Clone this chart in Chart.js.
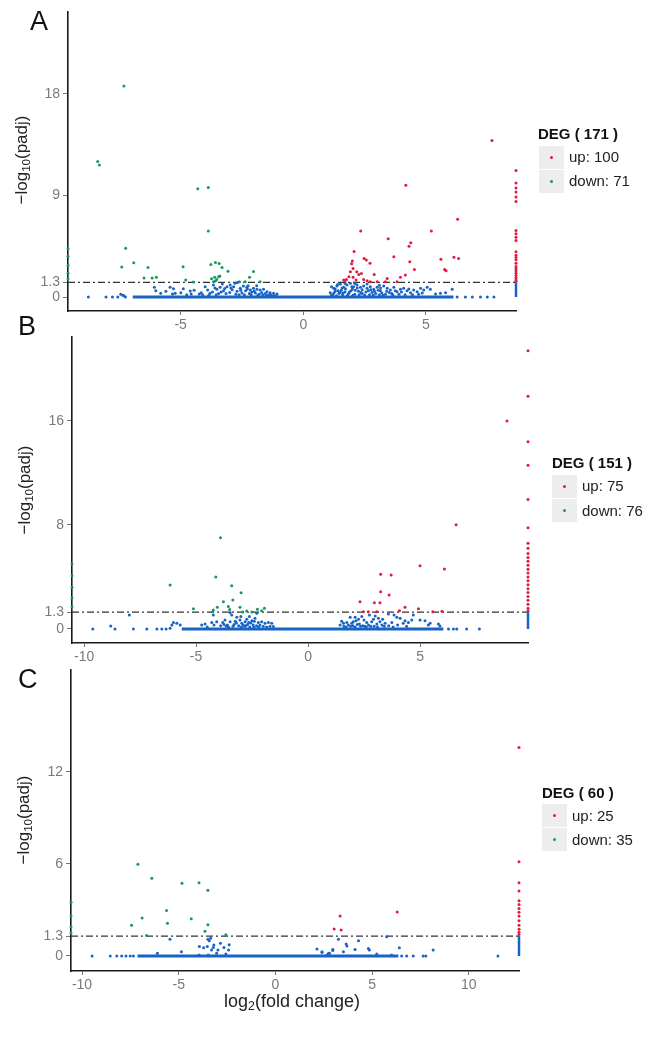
<!DOCTYPE html>
<html>
<head>
<meta charset="utf-8">
<script src="https://cdn.jsdelivr.net/npm/chart.js@4.4.1/dist/chart.umd.min.js"></script>
<style>
body { margin: 0; background: #fff; font-family: "Liberation Sans", Arial, sans-serif; }
#wrap { position: relative; width: 660px; height: 1044px; overflow: hidden; }
canvas { position: absolute; left: 0; }
.letter { position: absolute; font-size: 27px; line-height: 27px; color: #111; }
.ytitle { position: absolute; font-size: 17px; color: #222; white-space: nowrap; transform: translate(-50%, -50%) rotate(-90deg); }
.xtitle { position: absolute; font-size: 18px; color: #222; white-space: nowrap; transform: translate(-50%, -50%); }
sub { font-size: 0.68em; vertical-align: -0.25em; }
.lgtitle { position: absolute; font-size: 15px; font-weight: bold; line-height: 18px; color: #111; white-space: nowrap; }
.lgkey { position: absolute; width: 25px; height: 23px; background: #ededed; }
.lgkey i { position: absolute; left: 11px; top: 10px; width: 3px; height: 3px; border-radius: 50%; }
.lgtext { position: absolute; font-size: 15px; line-height: 18px; color: #222; white-space: nowrap; }
</style>
</head>
<body>
<div id="wrap">
  <canvas id="chartA" width="660" height="336" style="top:0px"></canvas>
  <canvas id="chartB" width="660" height="346" style="top:322px"></canvas>
  <canvas id="chartC" width="660" height="388" style="top:656px"></canvas>
</div>
<script>
// counts shown in the legends
const panelNames = ['A', 'B', 'C'];
const degTotals = [171, 151, 60];
const upCounts = [100, 75, 25];
const downCounts = [71, 76, 35];
const threshold = 1.3;

// ---- panel A ----
const xTicksA = [-5, 0, 5];
const yTicksA = [0, 1.3, 9, 18];
const xRangeA = [-9.59, 8.67];
const yRangeA = [-1.24, 25.3];
const zeroBandA = [-6.95, 6.12];
const downA = [[-7.31,18.7],[-8.38,12.0],[-8.31,11.7],[-4.30,9.6],[-3.87,9.7],[-3.87,5.85],[-7.24,4.32],[-7.40,2.65],[-6.91,3.03],[-6.33,2.62],[-6.49,1.68],[-6.16,1.68],[-5.99,1.74],[-4.90,2.68],[-4.79,1.5],[-4.48,1.32],[-3.77,2.88],[-3.58,3.06],[-3.43,2.97],[-3.31,2.62],[-3.07,2.29],[-3.74,1.62],[-3.61,1.74],[-3.53,1.56],[-3.45,1.8],[-3.40,1.85],[-3.66,1.35],[-3.58,1.41],[-2.03,2.26],[-2.19,1.74],[-2.60,1.35],[-2.37,1.35],[-1.76,1.35],[-9.59,4.3],[-9.59,3.6],[-9.59,2.8],[-9.59,2.1],[-9.59,1.6]];
const upA = [[7.69,13.86],[4.18,9.89],[6.29,6.88],[2.34,5.85],[5.22,5.85],[3.46,5.15],[4.38,4.8],[4.31,4.5],[2.07,4.03],[3.69,3.56],[2.48,3.42],[2.57,3.27],[2.72,3.0],[2.0,3.18],[1.97,2.94],[4.34,3.12],[5.61,3.35],[6.14,3.53],[6.33,3.42],[2.03,2.53],[1.92,2.24],[4.53,2.44],[5.76,2.44],[5.82,2.32],[2.18,2.24],[2.26,2.0],[2.37,2.09],[2.89,2.0],[1.65,1.5],[1.76,1.56],[1.86,1.8],[2.03,1.74],[2.15,1.5],[2.46,1.56],[2.6,1.44],[2.73,1.35],[3.01,1.35],[3.42,1.65],[3.35,1.35],[3.96,1.74],[4.16,1.94],[3.82,1.35],[1.7,1.35],
  [8.67,11.2],[8.67,10.1],[8.67,9.65],[8.67,9.3],[8.67,8.85],[8.67,8.47],[8.67,5.9],[8.67,5.6],[8.67,5.3],[8.67,5.0],[8.67,4.0],[8.67,3.7],[8.67,3.5],[8.67,3.3],[8.67,3.0],[8.67,2.7],[8.67,2.5],[8.67,2.3],[8.67,2.1],[8.67,1.9],[8.67,1.7],[8.67,1.5],[8.67,1.4]];
const nsA = [[-8.76,0],[-8.04,0],[-7.78,0],[-7.56,0],[-7.44,0.25],[-7.31,0.1],[-7.25,0],[-7.35,0.15],
  [-6.07,0.86],[-6.01,0.56],[-5.81,0.33],[-5.43,0.86],[-5.29,0.73],[-5.33,0.26],[-5.22,0.33],[-4.99,0.38],[-4.89,0.73],[-4.61,0.53],[-4.57,0.26],[-4.24,0.26],[-4.16,0.38],[-4.0,0.91],[-3.9,0.62],[-3.8,0.33],[-3.66,1.06],[-3.52,0.68],[-3.39,0.86],[-3.25,0.56],[-3.11,0.91],[-2.98,1.06],[-2.84,0.91],[-2.78,1.21],[-2.68,1.28],[-2.57,0.77],[-2.44,0.97],[-2.3,0.86],[-2.16,0.62],[-2.03,0.77],[-1.89,0.68],[-1.76,0.62],[-1.62,0.68],[-1.48,0.47],[-1.35,0.38],[-1.21,0.33],[-1.07,0.26],
  [-3.7,0.45],[-3.45,0.3],[-3.2,0.75],[-3.0,0.4],[-2.9,0.65],[-2.7,0.5],[-2.5,0.35],[-2.35,0.55],[-2.2,0.3],[-2.1,0.45],[-1.95,0.35],[-1.8,0.25],[-1.7,0.4],[-1.55,0.3],[-2.62,0.2],[-3.55,0.2],[-3.3,1.15],[-2.25,1.0],[-1.9,1.0],[-4.45,0.6],[-4.75,0.2],[-5.6,0.5],
  [-3.6,0.8],[-3.35,0.45],[-3.15,0.3],[-2.95,0.8],[-2.75,0.25],[-2.55,0.6],[-2.4,0.2],[-2.28,0.7],[-2.12,0.2],[-2.0,0.5],[-1.85,0.15],[-1.65,0.2],[-1.5,0.15],[-1.4,0.2],[-1.3,0.15],[-1.2,0.12],[-1.12,0.1],[-3.85,0.15],[-4.1,0.2],
  [1.1,0.38],[1.24,0.77],[1.37,0.97],[1.51,1.15],[1.65,0.86],[1.78,1.06],[1.92,1.21],[2.05,0.91],[2.19,1.06],[2.33,0.86],[2.46,0.97],[2.6,0.77],[2.73,0.91],[2.87,0.68],[3.01,0.86],[3.14,0.56],[3.28,0.97],[3.42,0.77],[3.55,0.62],[3.69,0.86],[3.82,0.47],[3.96,0.68],[4.09,0.77],[4.23,0.56],[4.37,0.38],[4.5,0.62],[4.64,0.47],[4.78,0.77],[4.91,0.62],[5.05,0.86],[5.18,0.68],[5.39,0.26],[5.59,0.33],[5.8,0.38],[6.07,0.68],
  [1.2,0.2],[1.3,0.5],[1.45,0.3],[1.55,0.6],[1.6,0.2],[1.7,0.45],[1.85,0.3],[1.95,0.55],[2.1,0.25],[2.25,0.5],[2.4,0.3],[2.55,0.45],[2.7,0.2],[2.8,0.4],[2.95,0.3],[3.1,0.2],[3.2,0.35],[3.35,0.25],[3.5,0.4],[3.65,0.2],[1.4,1.1],[1.7,1.2],[2.1,1.2],[2.6,1.15],[3.1,1.05],[1.15,0.9],[1.3,0.7],[2.0,0.7],[2.4,0.65],
  [1.15,0.15],[1.25,0.35],[1.35,0.12],[1.42,0.55],[1.5,0.4],[1.58,0.8],[1.62,0.35],[1.72,0.7],[1.8,0.15],[1.88,0.45],[1.98,0.9],[2.02,0.15],[2.12,0.6],[2.2,0.8],[2.28,0.2],[2.35,0.4],[2.5,0.15],[2.65,0.55],[2.75,0.65],[2.85,0.15],[2.9,0.5],[3.05,0.6],[3.15,0.8],[3.25,0.15],[3.4,0.5],[3.6,0.3],[3.75,0.55],[3.9,0.25],[4.0,0.45],[4.15,0.2],[4.3,0.7],[4.45,0.2],[4.7,0.25],[4.85,0.35],
  [6.27,0],[6.61,0],[6.89,0],[7.22,0],[7.5,0],[7.77,0]];

// ---- panel B ----
const xTicksB = [-10, -5, 0, 5];
const yTicksB = [0, 1.3, 8, 16];
const xRangeB = [-10.54, 9.82];
const yRangeB = [-1.08, 22.46];
const zeroBandB = [-5.64, 6.04];
const downB = [[-3.91,7.02],[-4.12,4.0],[-6.16,3.38],[-3.41,3.33],[-2.99,2.79],[-3.36,2.23],[-3.78,2.1],[-3.56,1.72],[-3.04,1.67],[-5.12,1.56],[-4.23,1.46],[-4.05,1.67],[-2.74,1.38],[-2.51,1.31],[-2.26,1.52],[-2.07,1.41],[-1.95,1.59],[-4.26,1.33],[-2.92,1.31],[-3.5,1.5],
  [-10.54,5.0],[-10.54,4.1],[-10.54,3.2],[-10.54,2.4],[-10.54,1.7]];
const upB = [[8.88,16.0],[6.61,8.02],[5.0,4.87],[6.09,4.62],[3.24,4.21],[3.71,4.15],[3.24,2.87],[3.62,2.62],[2.32,2.1],[2.96,2.02],[3.21,2.02],[4.33,1.67],[4.93,1.56],[4.08,1.41],[2.47,1.33],[2.69,1.33],[3.07,1.33],[5.57,1.32],[5.98,1.36],
  [9.82,21.4],[9.82,17.9],[9.82,14.4],[9.82,12.6],[9.82,9.95],[9.82,7.79],[9.82,6.6],[9.82,6.2],[9.82,5.8],[9.82,5.5],[9.82,5.2],[9.82,4.9],[9.82,4.6],[9.82,4.3],[9.82,4.0],[9.82,3.7],[9.82,3.4],[9.82,3.1],[9.82,2.8],[9.82,2.5],[9.82,2.2],[9.82,1.9],[9.82,1.6],[9.82,1.4]];
const nsB = [[-9.61,0],[-8.81,0.23],[-8.62,0],[-7.98,1.08],[-7.8,0],[-7.2,0],[-6.75,0],[-6.53,0],[-6.34,0],[-6.16,0.05],[-6.08,0.31],[-6.01,0.49],[-5.86,0.44],[-5.71,0.31],
  [-4.75,0.31],[-4.6,0.38],[-4.3,0.49],[-4.2,0.31],[-4.08,0.56],[-3.81,0.49],[-3.71,0.69],[-3.48,0.56],[-3.41,1.08],[-3.18,0.9],[-3.04,0.69],[-2.96,0.44],[-2.81,0.56],[-2.74,0.74],[-2.62,0.95],[-2.51,0.64],[-2.37,0.82],[-2.29,1.21],[-2.22,0.49],[-2.07,0.56],[-1.92,0.44],[-1.77,0.49],[-1.62,0.44],[-1.55,0.18],[-4.23,1.08],[-3.48,1.26],
  [-3.9,0.25],[-3.6,0.3],[-3.3,0.35],[-3.1,0.25],[-2.9,0.3],[-2.7,0.35],[-2.45,0.3],[-2.3,0.25],[-2.15,0.3],[-3.25,0.6],[-2.85,0.2],[-2.55,0.45],[-3.65,0.2],[-4.5,0.15],[-3.0,0.95],[-2.4,0.6],
  [-3.55,0.15],[-3.35,0.2],[-3.2,0.45],[-2.98,0.15],[-2.78,0.25],[-2.6,0.15],[-2.42,0.15],[-2.2,0.15],[-2.0,0.2],[-1.85,0.15],[-1.7,0.2],[-3.75,0.35],[-2.65,0.5],
  [1.43,0.31],[1.58,0.44],[1.73,0.49],[1.88,0.9],[1.95,0.44],[2.02,0.56],[2.14,0.64],[2.25,0.74],[2.29,0.38],[2.4,0.95],[2.5,0.69],[2.62,0.49],[2.74,1.08],[2.84,0.56],[2.92,0.74],[3.07,0.38],[3.14,0.82],[3.21,0.56],[3.33,0.74],[3.44,0.44],[3.59,1.15],[3.74,0.49],[3.84,1.08],[3.96,0.9],[4.11,0.82],[4.25,0.44],[4.33,0.64],[4.48,0.49],[4.63,0.69],[4.7,1.08],[5.0,0.69],[5.22,0.64],[5.37,0.31],[5.45,0.44],[5.82,0.38],[5.89,0.23],
  [1.6,0.2],[1.8,0.3],[2.0,0.25],[2.2,0.35],[2.45,0.25],[2.7,0.3],[2.95,0.2],[3.3,0.3],[3.6,0.25],[1.5,0.6],[2.1,0.9],[3.0,1.0],[2.55,0.2],
  [1.7,0.15],[1.9,0.2],[2.1,0.15],[2.35,0.2],[2.6,0.15],[2.8,0.2],[3.1,0.15],[3.4,0.2],[3.8,0.15],[4.0,0.3],[4.4,0.2],
  [6.27,0],[6.49,0],[6.64,0],[7.08,0],[7.65,0]];

// ---- panel C ----
const xTicksC = [-10, -5, 0, 5, 10];
const yTicksC = [0, 1.3, 6, 12];
const xRangeC = [-10.57, 12.6];
const yRangeC = [-0.98, 18.65];
const zeroBandC = [-7.13, 6.36];
const downC = [[-7.11,5.98],[-6.39,5.07],[-4.83,4.74],[-3.95,4.78],[-3.49,4.28],[-5.63,2.96],[-6.89,2.48],[-5.58,2.13],[-4.35,2.43],[-7.44,2.0],[-3.49,2.04],[-3.64,1.61],[-6.66,1.33],[-2.56,1.39],
  [-10.57,3.5],[-10.57,2.6],[-10.57,1.9],[-10.57,1.5]];
const upC = [[3.35,2.61],[3.04,1.76],[3.4,1.7],[6.3,2.87],
  [12.6,13.6],[12.6,6.15],[12.6,4.78],[12.6,4.24],[12.6,3.6],[12.6,3.35],[12.6,3.1],[12.6,2.85],[12.6,2.6],[12.6,2.3],[12.6,2.0],[12.6,1.75],[12.6,1.55],[12.6,1.4]];
const nsC = [[-9.48,0],[-8.54,0],[-8.2,0],[-7.95,0],[-7.73,0],[-7.51,0],[-7.34,0],[-6.1,0.17],[-5.45,1.09],[-4.86,0.28],[-3.93,0.61],[-3.71,0.54],[-3.52,0.61],[-3.49,1.09],[-3.42,1.0],[-3.35,1.15],[-3.3,0.39],[-3.21,0.56],[-3.18,0.72],[-3.04,0.17],[-2.97,0.39],[-2.84,0.83],[-2.66,0.56],[-2.56,0.13],[-2.42,0.39],[-2.39,0.74],[-3.95,0.07],[-3.47,0.07],
  [2.15,0.46],[2.41,0.22],[2.66,0.07],[2.8,0.17],[2.41,0.28],[2.75,0.17],[2.97,0.43],[2.97,0.35],[3.26,1.09],[3.52,0.28],[3.66,0.78],[3.7,0.65],[4.12,0.43],[4.3,1.0],[4.81,0.48],[4.86,0.39],[5.24,0.13],[5.76,1.26],[6.01,0.07],[6.41,0.54],[8.16,0.39],[11.51,0],
  [6.53,0],[6.79,0],[7.13,0],[7.64,0],[7.78,0]];

const BLUE = '#1763c6', RED = '#e31a3f', GREEN = '#17995c';

function toXY(arr) { return arr.map(p => ({ x: p[0], y: p[1] })); }

function volcano(id, o) {
  let ctx = document.getElementById(id).getContext('2d');
  let dot = (data, color) => ({ data: toXY(data), backgroundColor: color, pointRadius: 1.5, pointBorderWidth: 0, clip: false });
  let seg = (a, b, color, w, dash) => ({ type: 'line', data: [{ x: a[0], y: a[1] }, { x: b[0], y: b[1] }], borderColor: color, borderWidth: w, borderDash: dash || [], pointRadius: 0, clip: false });
  return new Chart(ctx, {
    type: 'scatter',
    data: {
      datasets: [
        seg([o.band[0], 0], [o.band[1], 0], BLUE, 3),
        seg([o.xr[1], 0], [o.xr[1], threshold], BLUE, 2.5),
        dot(o.ns, BLUE),
        dot(o.up, RED),
        dot(o.down, GREEN),
        seg([o.xr[0], threshold], [o.xr[1], threshold], '#333', 1.3, [7, 3, 2, 3])
      ]
    },
    options: {
      responsive: false,
      animation: false,
      events: [],
      layout: { padding: o.pad },
      plugins: { legend: { display: false }, tooltip: { enabled: false } },
      scales: {
        x: {
          type: 'linear', min: o.xr[0], max: o.xr[1],
          afterBuildTicks: s => { s.ticks = o.xt.map(v => ({ value: v })); },
          afterFit: s => { s.height = 25; },
          grid: { drawOnChartArea: false, tickLength: 4, color: '#777' },
          border: { color: '#1a1a1a', width: 1.6 },
          ticks: { color: '#7a7a7a', font: { size: 14, family: 'Liberation Sans' }, padding: 2, maxRotation: 0, autoSkip: false }
        },
        y: {
          type: 'linear', min: o.yr[0], max: o.yr[1],
          afterBuildTicks: s => { s.ticks = o.yt.map(v => ({ value: v })); },
          afterFit: s => { s.width = o.yw; },
          grid: { drawOnChartArea: false, tickLength: 5, color: '#777' },
          border: { color: '#1a1a1a', width: 1.6 },
          ticks: { color: '#7a7a7a', font: { size: 14, family: 'Liberation Sans' }, padding: 3, callback: v => String(v) }
        }
      }
    }
  });
}

let chartA = volcano('chartA', { ns: nsA, up: upA, down: downA, band: zeroBandA, xr: xRangeA, yr: yRangeA, xt: xTicksA, yt: yTicksA, yw: 68, pad: { left: 0, top: 10, right: 144, bottom: 0 } });
let chartB = volcano('chartB', { ns: nsB, up: upB, down: downB, band: zeroBandB, xr: xRangeB, yr: yRangeB, xt: xTicksB, yt: yTicksB, yw: 72, pad: { left: 0, top: 15, right: 132, bottom: 0 } });
let chartC = volcano('chartC', { ns: nsC, up: upC, down: downC, band: zeroBandC, xr: xRangeC, yr: yRangeC, xt: xTicksC, yt: yTicksC, yw: 71, pad: { left: 0, top: 14, right: 141, bottom: 48 } });

// labels, titles and legends
let wrap = document.getElementById('wrap');
function addDiv(cls, html, css) {
  let d = document.createElement('div');
  d.className = cls;
  d.innerHTML = html;
  Object.assign(d.style, css);
  wrap.appendChild(d);
  return d;
}
let letterPos = [[30, 8], [18, 313], [18, 666]];
let ytitlePos = [[22, 160], [25, 490], [24, 820]];
// legend: [title x, title cy, key x, key y up, key y down, text x, text cy up, text cy down]
let legendPos = [[538, 134, 539, 146, 170, 569, 157, 181], [552, 463, 552, 475, 499, 582, 486, 511], [542, 793, 542, 804, 828, 572, 816, 840]];

panelNames.forEach((n, i) => {
  addDiv('letter', n, { left: letterPos[i][0] + 'px', top: letterPos[i][1] + 'px' });
  addDiv('ytitle', '&minus;log<sub>10</sub>(padj)', { left: ytitlePos[i][0] + 'px', top: ytitlePos[i][1] + 'px' });
  let L = legendPos[i];
  addDiv('lgtitle', 'DEG ( ' + degTotals[i] + ' )', { left: L[0] + 'px', top: (L[1] - 9) + 'px' });
  let k1 = addDiv('lgkey', '<i></i>', { left: L[2] + 'px', top: L[3] + 'px' });
  k1.firstChild.style.background = RED;
  let k2 = addDiv('lgkey', '<i></i>', { left: L[2] + 'px', top: L[4] + 'px' });
  k2.firstChild.style.background = GREEN;
  addDiv('lgtext', 'up: ' + upCounts[i], { left: L[5] + 'px', top: (L[6] - 9) + 'px' });
  addDiv('lgtext', 'down: ' + downCounts[i], { left: L[5] + 'px', top: (L[7] - 9) + 'px' });
});
addDiv('xtitle', 'log<sub>2</sub>(fold change)', { left: '292px', top: '1002px' });
</script>
</body>
</html>
